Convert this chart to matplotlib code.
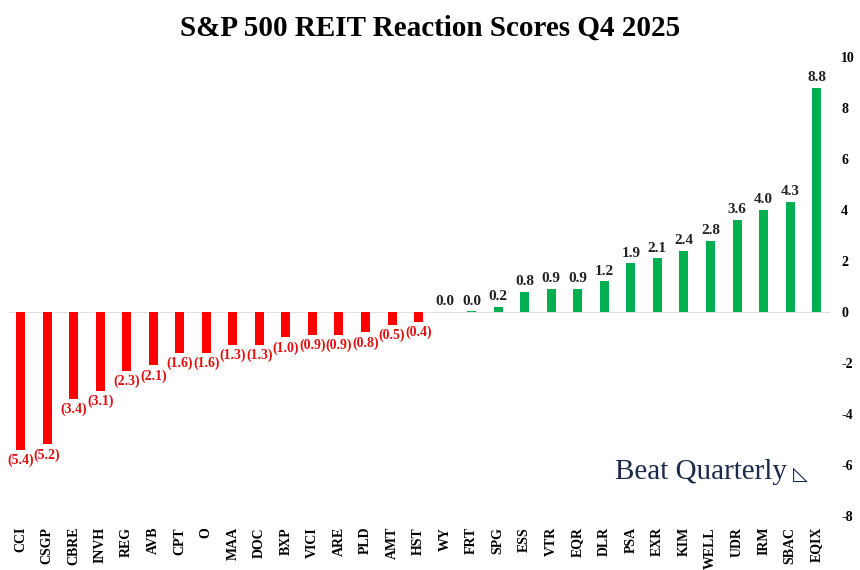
import matplotlib.pyplot as plt

tickers = ["CCI", "CSGP", "CBRE", "INVH", "REG", "AVB", "CPT", "O", "MAA", "DOC",
           "BXP", "VICI", "ARE", "PLD", "AMT", "HST", "WY", "FRT", "SPG", "ESS",
           "VTR", "EQR", "DLR", "PSA", "EXR", "KIM", "WELL", "UDR", "IRM", "SBAC", "EQIX"]
scores = [-5.4, -5.2, -3.4, -3.1, -2.3, -2.1, -1.6, -1.6, -1.3, -1.3,
          -1.0, -0.9, -0.9, -0.8, -0.5, -0.4, 0.0, 0.02, 0.2, 0.8,
          0.9, 0.9, 1.2, 1.9, 2.1, 2.4, 2.8, 3.6, 4.0, 4.3, 8.8]

RED = "#ff0000"
GREEN = "#00b050"
SERIF = "Liberation Serif"

fig = plt.figure(figsize=(8.6, 5.7), dpi=100)
ax = fig.add_axes([0.01, 0.095, 0.955, 0.805])

x = list(range(len(tickers)))
colors = [RED if v < 0 else GREEN for v in scores]
ax.bar(x, scores, width=0.34, color=colors, zorder=2)
ax.axhline(0, color="#e0e0e0", lw=0.8, zorder=1)

for i, v in enumerate(scores):
    if v < 0:
        ax.text(i, v - 0.15, "(%.1f)" % abs(v), ha="center", va="top", color="#e01010",
                fontsize=10, fontweight="bold", family=SERIF)
    else:
        ax.text(i, v + 0.15, "%.1f" % v, ha="center", va="bottom", color="#222222",
                fontsize=11, fontweight="bold", family=SERIF)

ax.set_xlim(-0.45, len(tickers) - 0.5)
ax.set_ylim(-8, 10)
ax.set_xticks(x)
ax.set_xticklabels(tickers, rotation=90, family=SERIF, fontweight="bold", fontsize=10)
ax.yaxis.tick_right()
ax.set_yticks(range(-8, 11, 2))
ax.set_yticklabels([str(t) for t in range(-8, 11, 2)], family=SERIF, fontweight="bold", fontsize=10)
ax.tick_params(length=0, pad=8)
for s in ax.spines.values():
    s.set_visible(False)

fig.suptitle("S&P 500 REIT Reaction Scores Q4 2025", y=0.975, family=SERIF,
             fontweight="heavy", fontsize=21)

fig.text(0.915, 0.172, "Beat Quarterly", ha="right", va="center", color="#1b2a4a",
         family=SERIF, fontsize=21)
fig.text(0.94, 0.168, "\u25FA", ha="right", va="center", color="#1b2a4a", fontsize=14)

fig.savefig("out.png")
